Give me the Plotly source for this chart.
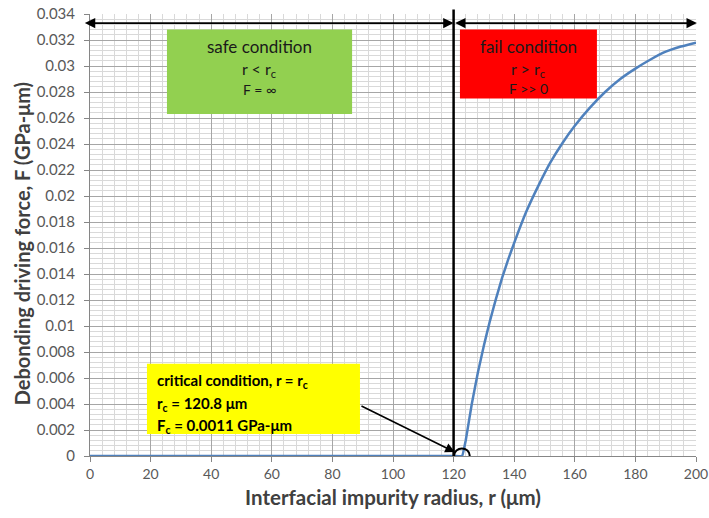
import plotly.graph_objects as go

# ---- data ----
radius = [0, 20, 40, 60, 80, 100, 120, 122.8, 124, 126, 128, 130, 132, 134, 136, 138, 140,
          144, 148, 152, 156, 160, 165, 170, 175, 180, 185, 190, 195, 200]
force = [0, 0, 0, 0, 0, 0, 0, 0, 0.0012, 0.0040, 0.0064, 0.0085, 0.0104, 0.0121, 0.0137,
         0.0151, 0.0164, 0.0188, 0.0208, 0.0226, 0.0241, 0.0254, 0.0268, 0.0280, 0.0290,
         0.0298, 0.0305, 0.0311, 0.0315, 0.0318]
y_tickvals = [i * 0.002 for i in range(18)]
y_ticktext = ["0", "0.002", "0.004", "0.006", "0.008", "0.01", "0.012", "0.014", "0.016",
              "0.018", "0.02", "0.022", "0.024", "0.026", "0.028", "0.03", "0.032", "0.034"]
x_tickvals = list(range(0, 201, 20))
x_ticktext = [str(v) for v in x_tickvals]
r_c = 120.8
r_split = 120

FONT = "Lato, 'Open Sans', sans-serif"

fig = go.Figure()
fig.add_trace(go.Scatter(x=radius, y=force, mode="lines",
                         line=dict(color="#4F81BD", width=2.5, shape="spline", smoothing=0.3),
                         hoverinfo="skip", showlegend=False))

# vertical critical line
fig.add_shape(type="line", xref="x", yref="paper", x0=r_split, x1=r_split, y0=0, y1=1.01,
              line=dict(color="black", width=2.5))

# boxes
fig.add_shape(type="rect", x0=25.4, x1=86.5, y0=0.0263, y1=0.0328,
              fillcolor="#92D050", line=dict(width=0))
fig.add_shape(type="rect", x0=122.1, x1=167.3, y0=0.0275, y1=0.0328,
              fillcolor="#FF0000", line=dict(width=0))
fig.add_shape(type="rect", x0=18.8, x1=89.1, y0=0.0017, y1=0.0071,
              fillcolor="#FFFF00", line=dict(width=0))
# ellipse at critical point
fig.add_shape(type="circle", x0=120.2, x1=125.3, y0=-0.00048, y1=0.00058,
              line=dict(color="black", width=2))

# double arrows across the top
for xa, xb in [(-2.2, r_split), (r_split, 200.3)]:
    fig.add_annotation(x=xb, y=0.0333, ax=xa, ay=0.0333, xref="x", yref="y", axref="x", ayref="y",
                       text="", showarrow=True, arrowside="end+start", arrowhead=2,
                       arrowsize=1.3, arrowwidth=1.6, arrowcolor="black", standoff=0, startstandoff=0)
# arrow from critical box to point
fig.add_annotation(x=120.4, y=0.0003, ax=89.1, ay=0.0039, xref="x", yref="y", axref="x", ayref="y",
                   text="", showarrow=True, arrowhead=2, arrowsize=1.2, arrowwidth=1.6,
                   arrowcolor="black")

# box texts
TXT = "#1a1a1a"
fig.add_annotation(x=56, y=0.0315, text="safe condition", showarrow=False,
                   font=dict(family=FONT, size=17, color=TXT))
fig.add_annotation(x=56, y=0.0297, text="r &lt; r<sub>c</sub>", showarrow=False,
                   font=dict(family=FONT, size=16, color=TXT))
fig.add_annotation(x=56, y=0.0282, text="F = ∞", showarrow=False,
                   font=dict(family=FONT, size=14, color=TXT))
fig.add_annotation(x=144.7, y=0.0315, text="fail condition", showarrow=False,
                   font=dict(family=FONT, size=17, color=TXT))
fig.add_annotation(x=144.7, y=0.0297, text="r &gt; r<sub>c</sub>", showarrow=False,
                   font=dict(family=FONT, size=16, color=TXT))
fig.add_annotation(x=144.7, y=0.0283, text="F &gt;&gt; 0", showarrow=False,
                   font=dict(family=FONT, size=14, color=TXT))
fig.add_annotation(x=21.3, y=0.0058, text="<b>critical condition, r = r<sub>c</sub></b>",
                   showarrow=False, xanchor="left", font=dict(family=FONT, size=15, color="black"))
fig.add_annotation(x=21.3, y=0.0040, text="<b>r<sub>c</sub> = %.1f μm</b>" % r_c,
                   showarrow=False, xanchor="left", font=dict(family=FONT, size=15, color="black"))
fig.add_annotation(x=21.3, y=0.0023, text="<b>F<sub>c</sub> = 0.0011 GPa-μm</b>",
                   showarrow=False, xanchor="left", font=dict(family=FONT, size=15, color="black"))

# y-axis title (placed as in reference, slightly below axis centre)
fig.add_annotation(xref="paper", yref="paper", x=-0.113, y=0.48, textangle=-90,
                   xanchor="center", yanchor="middle",
                   text="<b>Debonding driving force, F (GPa-μm)</b>", showarrow=False,
                   font=dict(family=FONT, size=20, color="#404040"))

fig.update_layout(
    width=709, height=518,
    margin=dict(l=90, r=13, t=14, b=62),
    paper_bgcolor="white", plot_bgcolor="white",
    font=dict(family=FONT, color="#404040"),
    xaxis=dict(range=[0, 200], tickmode="array", tickvals=x_tickvals, ticktext=x_ticktext,
               automargin=False,
               showgrid=True, gridcolor="#A6A6A6", gridwidth=1,
               minor=dict(tickmode="linear", tick0=0, dtick=4, showgrid=True,
                          gridcolor="#D9D9D9", gridwidth=1),
               ticks="outside", ticklen=5, tickcolor="#868686",
               showline=True, linecolor="#868686", zeroline=False,
               tickfont=dict(family=FONT, size=14, color="#595959"),
               title=dict(text="<b>Interfacial impurity radius, r (μm)</b>", standoff=9,
                          font=dict(family=FONT, size=20.5, color="#404040"))),
    yaxis=dict(range=[0, 0.034], tickmode="array", tickvals=y_tickvals, ticktext=y_ticktext,
               automargin=False,
               showgrid=True, gridcolor="#A6A6A6", gridwidth=1,
               minor=dict(tickmode="linear", tick0=0, dtick=0.0004, showgrid=True,
                          gridcolor="#D9D9D9", gridwidth=1),
               ticks="outside", ticklen=5, tickcolor="#868686", ticklabelstandoff=6,
               showline=True, linecolor="#868686", zeroline=False,
               tickfont=dict(family=FONT, size=15, color="#595959")),
)

fig.write_html("out.html")
